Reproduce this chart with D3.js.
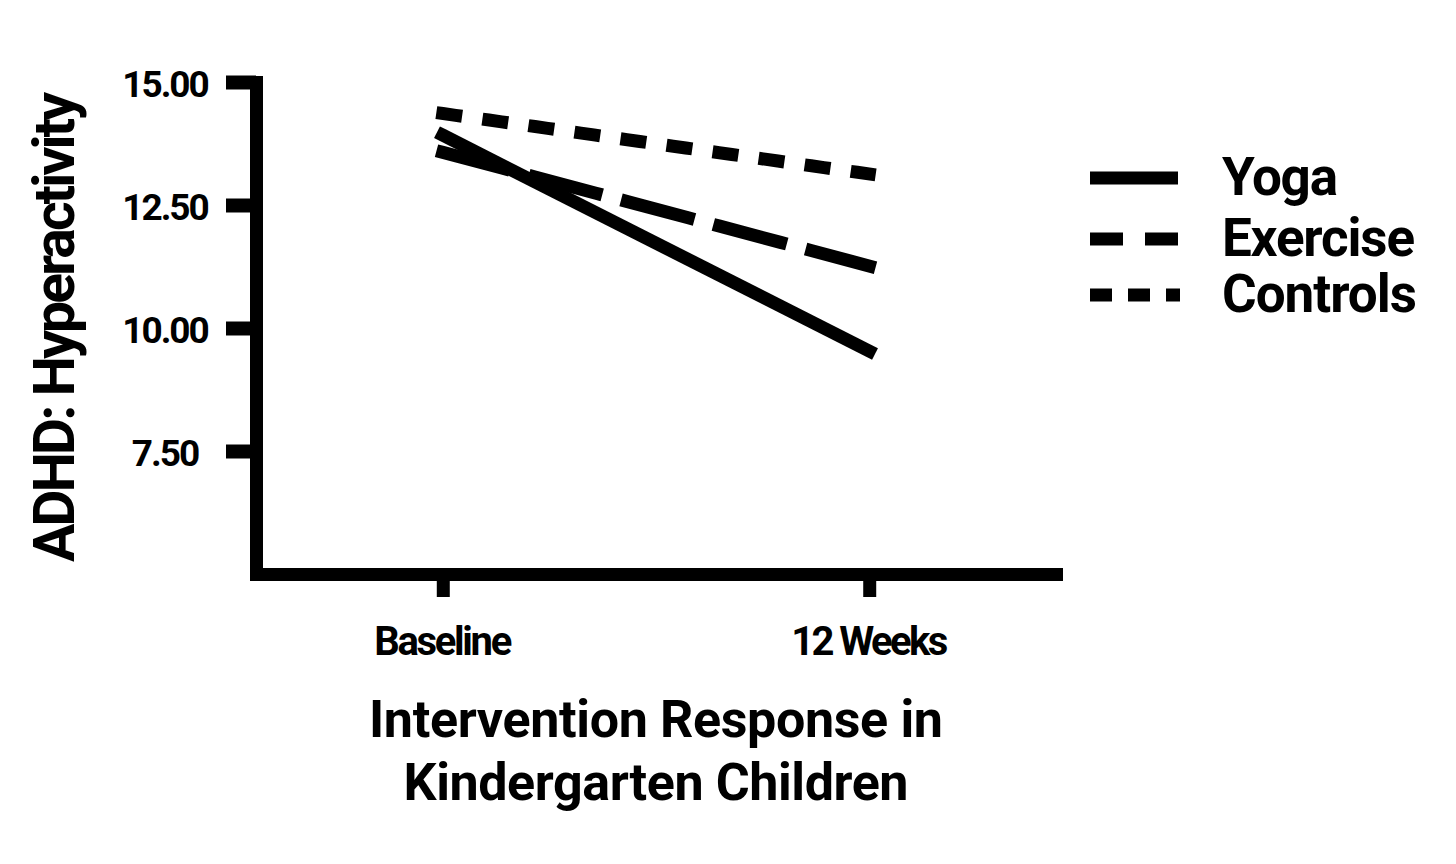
<!DOCTYPE html>
<html><head><meta charset="utf-8">
<script src="https://cdn.jsdelivr.net/npm/d3@7"></script>
<style>body{margin:0;background:#fff} svg{display:block;font-family:Roboto,"Liberation Sans",sans-serif}</style>
</head><body><svg id="chart" width="1456" height="864"></svg>
<script>
// ---- data ----
const categories = ["Baseline", "12 Weeks"];
const seriesNames = ["Yoga", "Exercise", "Controls"];
const yogaValues = [13.92, 9.53];
const exerciseValues = [13.57, 11.26];
const controlsValues = [14.36, 13.13];
const yTickValues = [7.5, 10, 12.5, 15];
const yTickLabels = ["7.50", "10.00", "12.50", "15.00"];
const xTitleLines = ["Intervention Response in", "Kindergarten Children"];
const yTitle = "ADHD: Hyperactivity";

// ---- styles ----
const plotDash = { Yoga: null, Exercise: "63,32.5", Controls: "13,33.5" };
const legendDash = { Yoga: null, Exercise: "33,22", Controls: "22,16" };
const LW = 13;
const FW = 700;

const svg = d3.select("#chart");
const x = d3.scalePoint().domain(categories).range([256, 1056]).padding(0.438);
const y = d3.scaleLinear().domain([5, 15]).range([574, 82]);

// Y axis
const yAxis = svg.append("g").attr("transform", "translate(256,0)")
  .call(d3.axisLeft(y).tickValues(yTickValues).tickSize(30).tickSizeOuter(0)
    .tickFormat((d, i) => yTickLabels[i]));
yAxis.select(".domain").attr("stroke", "#000").attr("stroke-width", LW).attr("stroke-linecap", "square");
yAxis.selectAll(".tick line").attr("stroke", "#000").attr("stroke-width", 14);
yAxis.selectAll(".tick text").attr("x", -91).attr("dy", 0).attr("y", 14)
  .attr("text-anchor", "middle").attr("fill", "#000")
  .style("font-family", "Roboto").style("font-weight", FW).style("font-size", "37px")
  .style("letter-spacing", "-2px");

// X axis
const xAxis = svg.append("g").attr("transform", "translate(0,574)")
  .call(d3.axisBottom(x).tickSize(23).tickSizeOuter(0));
xAxis.select(".domain").attr("stroke", "#000").attr("stroke-width", LW).attr("stroke-linecap", "square");
xAxis.selectAll(".tick line").attr("stroke", "#000").attr("stroke-width", 13);
const xLabelWidths = { "Baseline": 138, "12 Weeks": 157 };
xAxis.selectAll(".tick text").attr("y", 81).attr("dy", 0).attr("fill", "#000")
  .style("font-family", "Roboto").style("font-weight", FW).style("font-size", "40px")
  .attr("textLength", d => xLabelWidths[d]).attr("lengthAdjust", "spacing");

// Lines
const series = [
  { name: seriesNames[0], values: yogaValues },
  { name: seriesNames[1], values: exerciseValues },
  { name: seriesNames[2], values: controlsValues }
];
const line = d3.line().x((d, i) => x(categories[i])).y(d => y(d));
svg.append("g").selectAll("path").data(series).join("path")
  .attr("d", d => line(d.values))
  .attr("fill", "none").attr("stroke", "#000").attr("stroke-width", LW)
  .attr("stroke-linecap", "square")
  .attr("stroke-dasharray", d => plotDash[d.name]);

// Axis titles
const xTitleWidths = [574, 505];
svg.append("g").selectAll("text").data(xTitleLines).join("text")
  .attr("x", 656).attr("y", (d, i) => 737 + i * 63)
  .attr("text-anchor", "middle")
  .style("font-family", "Roboto").style("font-weight", FW).style("font-size", "52px")
  .attr("textLength", (d, i) => xTitleWidths[i]).attr("lengthAdjust", "spacing")
  .text(d => d);

svg.append("text")
  .attr("transform", "translate(74,327) rotate(-90)")
  .attr("text-anchor", "middle")
  .style("font-family", "Roboto").style("font-weight", FW).style("font-size", "57px")
  .attr("textLength", 470).attr("lengthAdjust", "spacing")
  .text(yTitle);

// Legend
const legendRowY = [178, 239, 295];
const legendTextW = [116, 193, 195];
const legend = svg.append("g");
series.forEach((s, i) => {
  legend.append("line")
    .attr("x1", 1090).attr("x2", s.name === "Yoga" ? 1178 : 1180)
    .attr("y1", legendRowY[i]).attr("y2", legendRowY[i])
    .attr("stroke", "#000").attr("stroke-width", LW)
    .attr("stroke-dasharray", legendDash[s.name]);
  legend.append("text")
    .attr("x", 1222).attr("y", legendRowY[i] + 17)
    .style("font-family", "Roboto").style("font-weight", FW).style("font-size", "53px")
    .attr("textLength", legendTextW[i]).attr("lengthAdjust", "spacing")
    .text(s.name);
});
</script></body></html>
